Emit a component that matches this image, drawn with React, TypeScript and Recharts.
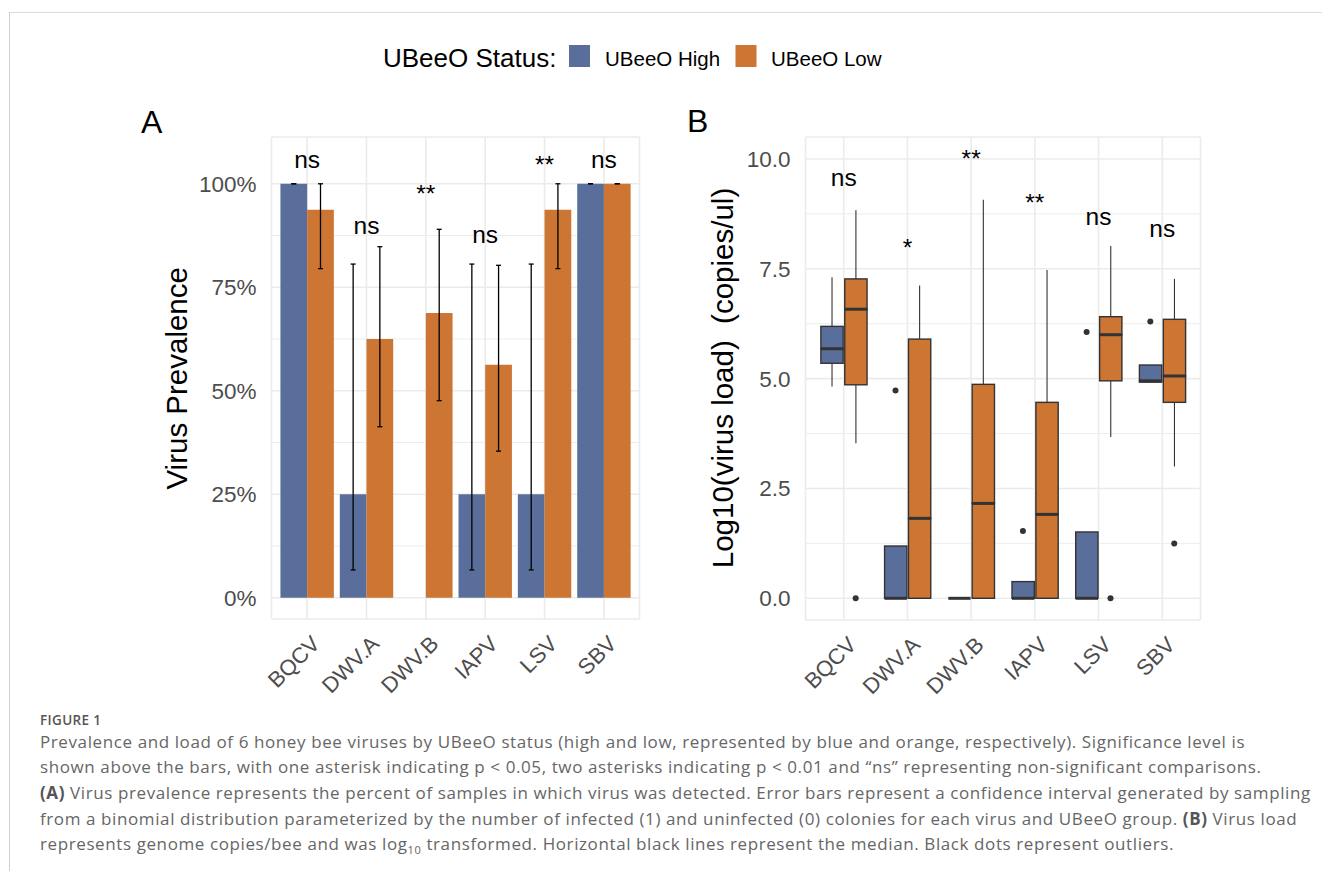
import React from 'react'
import { Bar, CartesianGrid, ComposedChart, ErrorBar, Scatter, XAxis, YAxis } from 'recharts'

const viruses = ['BQCV', 'DWV.A', 'DWV.B', 'IAPV', 'LSV', 'SBV']

// A: prevalence (share of colonies) with binomial CI bounds
const prevHigh = [1, 0.25, 0, 0.25, 0.25, 1]
const prevLow = [0.9375, 0.625, 0.6875, 0.5625, 0.9375, 1]
const ciHighLo = [1, 0.067, null, 0.067, 0.067, 1]
const ciHighHi = [1, 0.806, null, 0.806, 0.806, 1]
const ciLowLo = [0.795, 0.413, 0.476, 0.354, 0.795, 1]
const ciLowHi = [1, 0.848, 0.89, 0.803, 1, 1]
const sigPrev = ['ns', 'ns', '**', 'ns', '**', 'ns']
const sigPrevY = [1.037, 0.878, 0.957, 0.857, 1.026, 1.037]

// B: log10 virus load box stats
const hiWLo = [4.82, 0, 0, 0, 0, 4.9]
const hiQ1 = [5.35, 0, 0, 0, 0, 4.92]
const hiMed = [5.68, 0, 0, 0, 0, 4.95]
const hiQ3 = [6.19, 1.19, 0, 0.38, 1.51, 5.31]
const hiWHi = [7.31, 1.19, 0, 0.38, 1.51, 5.31]
const loWLo = [3.53, 0, 0, 0, 3.67, 3.0]
const loQ1 = [4.86, 0, 0, 0, 4.95, 4.46]
const loMed = [6.58, 1.82, 2.16, 1.91, 6.0, 5.06]
const loQ3 = [7.27, 5.9, 4.87, 4.46, 6.41, 6.35]
const loWHi = [8.83, 7.12, 9.07, 7.47, 8.02, 7.27]
const outliers = [
  { virus: 'DWV.A', group: 'high', value: 4.73 },
  { virus: 'IAPV', group: 'high', value: 1.53 },
  { virus: 'LSV', group: 'high', value: 6.06 },
  { virus: 'SBV', group: 'high', value: 6.3 },
  { virus: 'BQCV', group: 'low', value: 0 },
  { virus: 'LSV', group: 'low', value: 0 },
  { virus: 'SBV', group: 'low', value: 1.25 },
]
const sigLoad = ['ns', '*', '**', '**', 'ns', 'ns']
const sigLoadY = [9.39, 7.8, 9.82, 8.81, 8.5, 8.22]

const captionLines = [
  'Prevalence and load of 6 honey bee viruses by UBeeO status (high and low, represented by blue and orange, respectively). Significance level is',
  'shown above the bars, with one asterisk indicating p < 0.05, two asterisks indicating p < 0.01 and “ns” representing non-significant comparisons.',
]

const HIGH = '#5A6E9C'
const LOW = '#CD7532'
const GRID = '#EBEBEB'
const INK = '#333333'
const AXIS_TXT = '#4D4D4D'
const FONT = '"Liberation Sans", Arial, Helvetica, sans-serif'
const CAP_FONT = '"Open Sans", sans-serif'

const prevRows = viruses.map((virus, i) => ({
  virus,
  high: prevHigh[i],
  low: prevLow[i],
  highErr: ciHighLo[i] == null ? null : [prevHigh[i] - (ciHighLo[i] as number), (ciHighHi[i] as number) - prevHigh[i]],
  lowErr: [prevLow[i] - ciLowLo[i], ciLowHi[i] - prevLow[i]],
  sig: sigPrev[i],
  sigY: sigPrevY[i],
}))

const loadRows = viruses.map((virus, i) => ({
  virus,
  hBase: hiWLo[i],
  hWLo: hiQ1[i] - hiWLo[i],
  hBLo: hiMed[i] - hiQ1[i],
  hBHi: hiQ3[i] - hiMed[i],
  hWHi: hiWHi[i] - hiQ3[i],
  lBase: loWLo[i],
  lWLo: loQ1[i] - loWLo[i],
  lBLo: loMed[i] - loQ1[i],
  lBHi: loQ3[i] - loMed[i],
  lWHi: loWHi[i] - loQ3[i],
  sig: sigLoad[i],
  sigY: sigLoadY[i],
}))

const DODGE = 0.1875
const outlierRows = outliers.map((o) => ({
  x: viruses.indexOf(o.virus) + 1 + (o.group === 'high' ? -DODGE : DODGE),
  value: o.value,
}))

const Y_W = 60
const X_H = 60

const A_W = 560
const A_H = 620
const A_M = { top: 47, right: 40.5, bottom: 31, left: 91.5 }
const aBand = (A_W - A_M.left - A_M.right - Y_W) / 6.2

const B_W = 540
const B_H = 620
const B_M = { top: 47, right: 29.5, bottom: 30, left: 55.5 }
const bBand = (B_W - B_M.left - B_M.right - Y_W) / 6.2

function RotTick(props: any) {
  const { x, y, payload } = props
  return (
    <g transform={`translate(${x + 14},${y + 26})`}>
      <text textAnchor="end" transform="rotate(-45)" fill={AXIS_TXT} fontSize={22} fontFamily={FONT}>
        {payload.value}
      </text>
    </g>
  )
}

function SigLabel(props: any) {
  const { cx, cy, payload } = props
  return (
    <text x={cx} y={cy} textAnchor="middle" fontSize={24.5} fontFamily={FONT} fill="#000">
      {payload.sig}
    </text>
  )
}

const Empty = () => <g />

function Whisker(props: any) {
  const { x, y, width, height } = props
  if (!height || height <= 0) return <g />
  const cx = x + width / 2
  return <line x1={cx} x2={cx} y1={y} y2={y + height} stroke={INK} strokeWidth={1.1} />
}

function BoxLow(props: any) {
  const { x, y, width, height, fill } = props
  return <rect x={x} y={y} width={width} height={Math.max(height || 0, 0)} fill={fill} stroke={INK} strokeWidth={1.4} />
}

function BoxHigh(props: any) {
  const { x, y, width, height, fill } = props
  const h = Math.max(height || 0, 0)
  return (
    <g>
      <rect x={x} y={y} width={width} height={h} fill={fill} stroke={INK} strokeWidth={1.4} />
      <line x1={x} x2={x + width} y1={y + h} y2={y + h} stroke={INK} strokeWidth={3} />
    </g>
  )
}

function OutDot(props: any) {
  const { cx, cy } = props
  return <circle cx={cx} cy={cy} r={3} fill={INK} />
}

const yTick = { fill: AXIS_TXT, fontSize: 22.5, fontFamily: FONT }

function PrevalenceChart() {
  return (
    <ComposedChart width={A_W} height={A_H} data={prevRows} margin={A_M} barGap={0} barSize={aBand * 0.45}>
      <CartesianGrid vertical={false} horizontalValues={[0.125, 0.375, 0.625, 0.875]} stroke={GRID} strokeWidth={0.9} />
      <CartesianGrid stroke={GRID} strokeWidth={1.6} />
      <XAxis
        dataKey="virus"
        axisLine={false}
        tickLine={false}
        tickSize={0}
        tickMargin={0}
        height={X_H}
        interval={0}
        padding={{ left: aBand * 0.1, right: aBand * 0.1 }}
        tick={(p: any) => <RotTick {...p} />}
      />
      <YAxis
        type="number"
        domain={[-0.0515, 1.113]}
        allowDataOverflow
        ticks={[0, 0.25, 0.5, 0.75, 1]}
        tickFormatter={(v: number) => `${Math.round(v * 100)}%`}
        axisLine={false}
        tickLine={false}
        tickSize={6}
        tickMargin={9}
        width={Y_W}
        tick={yTick}
      />
      <Bar dataKey="high" fill={HIGH} isAnimationActive={false}>
        <ErrorBar dataKey="highErr" width={2.5} stroke="#000" strokeWidth={1.3} />
      </Bar>
      <Bar dataKey="low" fill={LOW} isAnimationActive={false}>
        <ErrorBar dataKey="lowErr" width={2.5} stroke="#000" strokeWidth={1.3} />
      </Bar>
      <Scatter dataKey="sigY" shape={SigLabel} isAnimationActive={false} />
    </ComposedChart>
  )
}

function LoadChart() {
  return (
    <ComposedChart width={B_W} height={B_H} data={loadRows} margin={B_M} barGap={bBand * 0.375 - bBand * 0.35} barSize={bBand * 0.35}>
      <CartesianGrid vertical={false} horizontalValues={[1.25, 3.75, 6.25, 8.75]} stroke={GRID} strokeWidth={0.9} />
      <CartesianGrid stroke={GRID} strokeWidth={1.6} />
      <XAxis
        dataKey="virus"
        axisLine={false}
        tickLine={false}
        tickSize={0}
        tickMargin={0}
        height={X_H}
        interval={0}
        padding={{ left: bBand * 0.1, right: bBand * 0.1 }}
        tick={(p: any) => <RotTick {...p} />}
      />
      <XAxis xAxisId="num" type="number" dataKey="x" domain={[0.4, 6.6]} allowDataOverflow hide />
      <YAxis
        type="number"
        domain={[-0.494, 10.5]}
        allowDataOverflow
        ticks={[0, 2.5, 5, 7.5, 10]}
        tickFormatter={(v: number) => v.toFixed(1)}
        axisLine={false}
        tickLine={false}
        tickSize={6}
        tickMargin={9}
        width={Y_W}
        tick={yTick}
      />
      <Bar dataKey="hBase" stackId="h" shape={Empty} isAnimationActive={false} />
      <Bar dataKey="hWLo" stackId="h" shape={Whisker} isAnimationActive={false} />
      <Bar dataKey="hBLo" stackId="h" fill={HIGH} shape={BoxLow} isAnimationActive={false} />
      <Bar dataKey="hBHi" stackId="h" fill={HIGH} shape={BoxHigh} isAnimationActive={false} />
      <Bar dataKey="hWHi" stackId="h" shape={Whisker} isAnimationActive={false} />
      <Bar dataKey="lBase" stackId="l" shape={Empty} isAnimationActive={false} />
      <Bar dataKey="lWLo" stackId="l" shape={Whisker} isAnimationActive={false} />
      <Bar dataKey="lBLo" stackId="l" fill={LOW} shape={BoxLow} isAnimationActive={false} />
      <Bar dataKey="lBHi" stackId="l" fill={LOW} shape={BoxHigh} isAnimationActive={false} />
      <Bar dataKey="lWHi" stackId="l" shape={Whisker} isAnimationActive={false} />
      <Scatter xAxisId="num" data={outlierRows} dataKey="value" shape={OutDot} isAnimationActive={false} />
      <Scatter dataKey="sigY" shape={SigLabel} isAnimationActive={false} />
    </ComposedChart>
  )
}

// baselines of the caption lines
const CAP_BASE = 748.2
const CAP_STEP = 25.7
const CAP_SIZE = 17
const capLine = (k: number): React.CSSProperties => ({
  position: 'absolute',
  left: 40,
  top: CAP_BASE + k * CAP_STEP - 13.6,
  whiteSpace: 'nowrap',
  lineHeight: '14px',
  fontFamily: CAP_FONT,
  fontSize: CAP_SIZE,
  letterSpacing: '0.6px',
  color: '#666',
})
const bold: React.CSSProperties = { fontWeight: 700, color: '#555' }

export default function App() {
  return (
    <div
      style={{
        position: 'absolute',
        left: 0,
        top: 0,
        width: 1322,
        height: 871,
        overflow: 'hidden',
        background: '#fff',
        fontFamily: FONT,
      }}
    >
      <div style={{ position: 'absolute', left: 9, top: 12, right: 0, height: 0, borderTop: '1px solid #dcdcdc' }} />
      <div style={{ position: 'absolute', left: 9, top: 12, bottom: 0, width: 0, borderLeft: '1px solid #cfcfcf' }} />

      <div style={{ position: 'absolute', left: 120, top: 90 }}>
        <PrevalenceChart />
      </div>
      <div style={{ position: 'absolute', left: 690, top: 90 }}>
        <LoadChart />
      </div>

      <svg width={1322} height={720} style={{ position: 'absolute', left: 0, top: 0, pointerEvents: 'none' }}>
        <g fontFamily={FONT} fill="#000">
          <text x={383} y={67.3} fontSize={26}>UBeeO Status:</text>
          <rect x={569} y={45} width={21} height={22} fill={HIGH} />
          <text x={605} y={66} fontSize={20.5}>UBeeO High</text>
          <rect x={735.5} y={45} width={21} height={22} fill={LOW} />
          <text x={771} y={66} fontSize={20.5}>UBeeO Low</text>
          <text x={141} y={133.3} fontSize={32}>A</text>
          <text x={687} y={132} fontSize={32}>B</text>
          <text x={187} y={378.3} fontSize={29.5} textAnchor="middle" transform="rotate(-90 187 378.3)">
            Virus Prevalence
          </text>
          <text x={733} y={378} fontSize={29.5} textAnchor="middle" transform="rotate(-90 733 378)" style={{ whiteSpace: 'pre' }}>
            {'Log10(virus load)  (copies/ul)'}
          </text>
        </g>
      </svg>

      <div
        style={{
          position: 'absolute',
          left: 40,
          top: 714.8,
          fontFamily: CAP_FONT,
          fontSize: 13.5,
          lineHeight: '10px',
          letterSpacing: '0.35px',
          fontWeight: 600,
          color: '#555',
          whiteSpace: 'nowrap',
        }}
      >
        FIGURE 1
      </div>
      <div style={capLine(0)}>{captionLines[0]}</div>
      <div style={capLine(1)}>{captionLines[1]}</div>
      <div style={capLine(2)}>
        <span style={bold}>(A)</span> Virus prevalence represents the percent of samples in which virus was detected. Error bars represent a confidence interval generated by sampling
      </div>
      <div style={capLine(3)}>
        from a binomial distribution parameterized by the number of infected (1) and uninfected (0) colonies for each virus and UBeeO group. <span style={bold}>(B)</span> Virus load
      </div>
      <div style={capLine(4)}>
        represents genome copies/bee and was log<sub style={{ fontSize: 11, lineHeight: 0 }}>10</sub> transformed. Horizontal black lines represent the median. Black dots represent outliers.
      </div>
    </div>
  )
}
